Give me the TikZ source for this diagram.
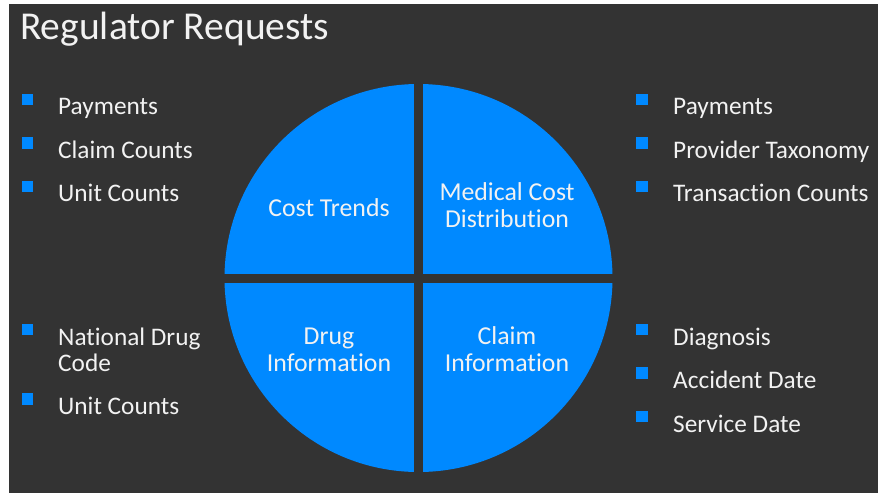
\documentclass[tikz,border=0pt]{standalone}
\usepackage{fontspec}
\setmainfont[Ligatures=NoCommon]{Carlito}
\definecolor{slate}{RGB}{51,51,51}
\definecolor{azure}{RGB}{0,137,255}
\definecolor{ink}{RGB}{242,242,242}
\tikzset{
  item/.style={anchor=base west, inner sep=0pt, text=ink, align=left,
    font=\fontsize{25.3}{26}\selectfont},
  quad/.style={anchor=base, inner sep=0pt, text=ink, align=center,
    font=\fontsize{25.8}{27}\selectfont},
  bullet/.style={fill=azure, inner sep=0pt, minimum size=11.5pt, anchor=north west},
}
\begin{document}
\begin{tikzpicture}[x=1pt,y=-1pt]
\useasboundingbox (0,0) rectangle (878,493);
\fill[white] (0,0) rectangle (878,493);
\fill[slate] (9,4) rectangle (878,493);

% title
\node[anchor=base west, inner sep=0pt, text=ink, font=\fontsize{39.5}{42}\selectfont]
  (title) at (20,39.5) {Regulator Requests};

% four quadrants: a disc split by a cross of background colour
\fill[azure] (418.5,278) circle (194);
\fill[slate] (414,70) rectangle (423,485);
\fill[slate] (215,274) rectangle (622,282.5);

% multi-line labels sit on the baseline of their last line
\node[quad] (costtrends) at (329,216) {Cost Trends};
\node[quad] (medcost) at (507,227.5) {Medical Cost\\Distribution};
\node[quad] (drug) at (329,371.5) {Drug\\Information};
\node[quad] (claim) at (507,371.5) {Claim\\Information};

% upper left list
\node[bullet] (b1) at (21.5,93.5) {};
\node[item] (t1) at (58,114) {Payments};
\node[bullet] (b2) at (21.5,137) {};
\node[item] (t2) at (58,158) {Claim Counts};
\node[bullet] (b3) at (21.5,180.5) {};
\node[item] (t3) at (58,201.5) {Unit Counts};

% upper right list
\node[bullet] (b4) at (636,93.5) {};
\node[item] (t4) at (673,114) {Payments};
\node[bullet] (b5) at (636,137) {};
\node[item] (t5) at (673,158) {Provider Taxonomy};
\node[bullet] (b6) at (636,180.5) {};
\node[item] (t6) at (673,201.5) {Transaction Counts};

% lower left list
\node[bullet] (b7) at (21.5,323.5) {};
\node[item] (t7) at (58,371) {National Drug\\Code};
\node[bullet] (b8) at (21.5,393) {};
\node[item] (t8) at (58,414.5) {Unit Counts};

% lower right list
\node[bullet] (b9) at (636,323.5) {};
\node[item] (t9) at (673,345) {Diagnosis};
\node[bullet] (b10) at (636,367) {};
\node[item] (t10) at (673,388.5) {Accident Date};
\node[bullet] (b11) at (636,410.5) {};
\node[item] (t11) at (673,432) {Service Date};
\end{tikzpicture}
\end{document}
